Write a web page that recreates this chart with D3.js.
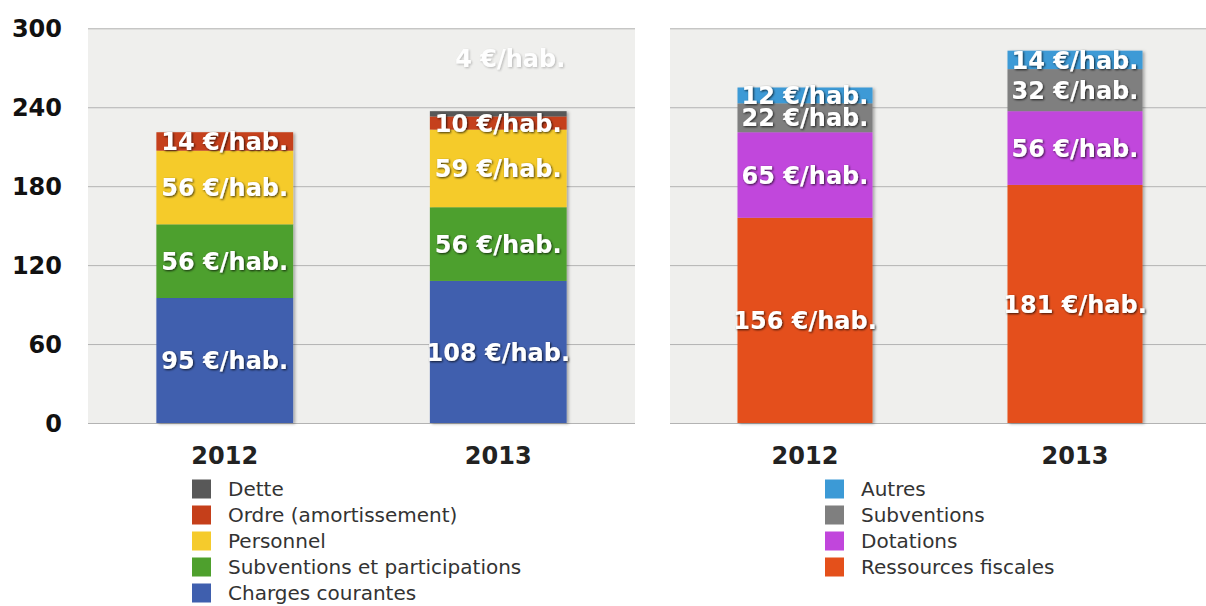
<!DOCTYPE html>
<html>
<head>
<meta charset="utf-8">
<script src="https://cdn.jsdelivr.net/npm/d3@7"></script>
<style>
  html, body { margin: 0; padding: 0; background: #ffffff; }
  svg { display: block; }
</style>
</head>
<body>
<svg id="chart" width="1206" height="606"></svg>
<script>
// ---------- data ----------
const years = ["2012", "2013"];
const yTicks = [0, 60, 120, 180, 240, 300];

// Dépenses (left panel), stacked bottom to top
const depSeries = ["Charges courantes", "Subventions et participations", "Personnel", "Ordre (amortissement)", "Dette"];
const depChargesCourantes = [95, 108];
const depSubventionsParticipations = [56, 56];
const depPersonnel = [56, 59];
const depOrdre = [14, 10];
const depDette = [0, 4];
const depColors = ["#3f5fae", "#4ea02d", "#f5cb2c", "#c53f1a", "#585858"];

// Recettes (right panel), stacked bottom to top
const recSeries = ["Ressources fiscales", "Dotations", "Subventions", "Autres"];
const recRessourcesFiscales = [156, 181];
const recDotations = [65, 56];
const recSubventions = [22, 32];
const recAutres = [12, 14];
const recColors = ["#e4501b", "#c146dc", "#7f7f7f", "#3c9ad6"];

// ---------- setup ----------
const svg = d3.select("#chart");
const FONT = "'DejaVu Sans', Verdana, sans-serif";

const defs = svg.append("defs");
const ts = defs.append("filter").attr("id", "txtShadow")
  .attr("x", "-20%").attr("y", "-40%").attr("width", "140%").attr("height", "180%");
ts.append("feDropShadow").attr("dx", 1).attr("dy", 1).attr("stdDeviation", 0.9)
  .attr("flood-color", "#000").attr("flood-opacity", 0.75);
const ts2 = defs.append("filter").attr("id", "txtShadowLight")
  .attr("x", "-20%").attr("y", "-40%").attr("width", "140%").attr("height", "180%");
ts2.append("feDropShadow").attr("dx", 1).attr("dy", 1).attr("stdDeviation", 1.2)
  .attr("flood-color", "#888").attr("flood-opacity", 0.6);
const bs = defs.append("filter").attr("id", "barShadow")
  .attr("x", "-10%").attr("y", "-5%").attr("width", "125%").attr("height", "115%");
bs.append("feDropShadow").attr("dx", 2).attr("dy", 1).attr("stdDeviation", 1.5)
  .attr("flood-color", "#000").attr("flood-opacity", 0.3);

const plotTop = 28.3, plotBottom = 423;
const y = d3.scaleLinear().domain([0, 300]).range([plotBottom, plotTop]);

function makePanel(x0, x1, seriesNames, seriesValues, colors, showYLabels, legendX) {
  const g = svg.append("g");
  const x = d3.scaleBand().domain(years).range([x0, x1]).paddingInner(0.5).paddingOuter(0.25);

  // background
  g.append("rect").attr("x", x0).attr("y", y(300)).attr("width", x1 - x0)
    .attr("height", y(0) - y(300)).attr("fill", "#efefed");

  // gridlines + y labels
  const ax = d3.axisLeft(y).tickValues(yTicks).tickSize(-(x1 - x0)).tickPadding(26);
  const axG = g.append("g").attr("transform", `translate(${x0},0)`).call(ax);
  axG.select(".domain").remove();
  axG.selectAll(".tick line").attr("stroke", "#b3b3b3").attr("stroke-width", 1);
  axG.selectAll(".tick text")
    .attr("font-family", FONT).attr("font-weight", "bold").attr("font-size", 24)
    .attr("fill", "#111").attr("dy", "0.36em");
  if (!showYLabels) axG.selectAll(".tick text").remove();

  // stacked data
  const rows = years.map((yr, i) => {
    const r = { year: yr };
    seriesNames.forEach((s, k) => { r[s] = seriesValues[k][i]; });
    return r;
  });
  const stacked = d3.stack().keys(seriesNames)(rows);

  // bars
  const barsG = g.append("g");
  years.forEach((yr, i) => {
    const bg = barsG.append("g").attr("filter", "url(#barShadow)");
    stacked.forEach((layer, k) => {
      const d = layer[i];
      if (d[1] - d[0] <= 0) return;
      bg.append("rect")
        .attr("x", x(yr)).attr("width", x.bandwidth())
        .attr("y", y(d[1])).attr("height", y(d[0]) - y(d[1]))
        .attr("fill", colors[k]);
    });
  });

  // labels
  const labG = g.append("g");
  years.forEach((yr, i) => {
    const total = d3.sum(seriesValues, v => v[i]);
    stacked.forEach((layer, k) => {
      const d = layer[i];
      const v = d[1] - d[0];
      if (v <= 0) return;
      const small = (y(d[0]) - y(d[1])) < 8;
      const cy = small ? y(total) - 53 : (y(d[0]) + y(d[1])) / 2;
      labG.append("text")
        .attr("x", x(yr) + x.bandwidth() / 2 + (small ? 12 : 0))
        .attr("y", cy).attr("dy", "0.36em")
        .attr("text-anchor", "middle")
        .attr("font-family", FONT).attr("font-weight", "bold").attr("font-size", 24)
        .attr("fill", "#ffffff")
        .attr("opacity", small ? 0.95 : 1)
        .attr("filter", small ? "url(#txtShadowLight)" : "url(#txtShadow)")
        .text(`${v} €/hab.`);
    });
  });

  // x axis labels
  const xa = d3.axisBottom(x).tickSize(0).tickPadding(24);
  const xG = g.append("g").attr("transform", `translate(0,${plotBottom})`).call(xa);
  xG.select(".domain").remove();
  xG.selectAll(".tick text")
    .attr("font-family", FONT).attr("font-weight", "bold").attr("font-size", 24)
    .attr("fill", "#222");

  // legend (top-to-bottom = reverse stack order)
  const legendItems = seriesNames.map((s, k) => ({ name: s, color: colors[k] })).reverse();
  const lg = g.append("g");
  legendItems.forEach((it, j) => {
    const cy = 489 + j * 26;
    lg.append("rect").attr("x", legendX).attr("y", cy - 9.5).attr("width", 19).attr("height", 19)
      .attr("fill", it.color);
    lg.append("text").attr("x", legendX + 36).attr("y", cy).attr("dy", "0.36em")
      .attr("font-family", FONT).attr("font-size", 20).attr("fill", "#333")
      .text(it.name);
  });
}

makePanel(88, 635,
  depSeries,
  [depChargesCourantes, depSubventionsParticipations, depPersonnel, depOrdre, depDette],
  depColors, true, 192);

makePanel(670, 1210,
  recSeries,
  [recRessourcesFiscales, recDotations, recSubventions, recAutres],
  recColors, false, 825);
</script>
</body>
</html>
